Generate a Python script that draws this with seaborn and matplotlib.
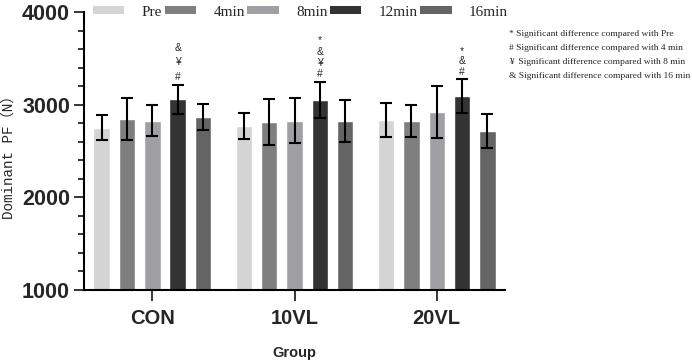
import numpy as np
import pandas as pd
import matplotlib
matplotlib.use("Agg")
import matplotlib.pyplot as plt
from matplotlib.ticker import MultipleLocator
from matplotlib.patches import Patch
import seaborn as sns

groups = ["CON", "10VL", "20VL"]
times = ["Pre", "4min", "8min", "12min", "16min"]
means = {
    "CON":  [2750, 2848, 2827, 3057, 2868],
    "10VL": [2773, 2816, 2827, 3053, 2824],
    "20VL": [2834, 2824, 2921, 3093, 2719],
}
errs = {
    "CON":  [135, 225, 170, 160, 140],
    "10VL": [140, 250, 245, 195, 225],
    "20VL": [187, 173, 285, 180, 185],
}
marks = {
    "CON":  ["&", "¥", "#"],
    "10VL": ["*", "&", "¥", "#"],
    "20VL": ["*", "&", "#"],
}
colors = ["#d4d4d4", "#7f7f7f", "#a0a0a4", "#333333", "#646464"]
notes = [
    "* Significant difference compared with Pre",
    "# Significant difference compared with 4 min",
    "¥  Significant difference compared with 8 min",
    "& Significant difference compared with 16 min",
]

rows = []
for g in groups:
    for t, m, e in zip(times, means[g], errs[g]):
        rows.append({"Group": g, "Time": t, "PF": m, "err": e})
df = pd.DataFrame(rows)

sns.set_style("ticks")
plt.rcParams["font.family"] = ["Liberation Sans", "DejaVu Sans"]

fig = plt.figure(figsize=(6.92, 3.62), dpi=100)
ax = fig.add_axes([0.1214, 0.1989, 0.6084, 0.768])

sns.barplot(data=df, x="Group", y="PF", hue="Time", order=groups, hue_order=times,
            palette=colors, width=0.89, gap=0.35, errorbar=None, ax=ax,
            saturation=1, legend=False)

mark_step = {"CON": 10.3, "10VL": 8.0, "20VL": 7.3}

for i, t in enumerate(times):
    for j, g in enumerate(groups):
        p = ax.patches[i * len(groups) + j]
        xc = p.get_x() + p.get_width() / 2
        row = df[(df.Group == g) & (df.Time == t)].iloc[0]
        ax.errorbar(xc, row.PF, yerr=row.err, color="black", capsize=4,
                    elinewidth=1.5, capthick=1.5, zorder=5)
        if t == "12min":
            top = row.PF + row.err
            for k, s in enumerate(reversed(marks[g])):
                ax.annotate(s, (xc, top), xytext=(0, 2 + k * mark_step[g]),
                            textcoords="offset points", ha="center", va="bottom",
                            fontsize=7.5, family=["Liberation Sans", "DejaVu Sans"])

ax.set_ylim(1000, 4000)
ax.set_xlim(-0.48, 2.48)
ax.yaxis.set_major_locator(MultipleLocator(1000))
ax.yaxis.set_minor_locator(MultipleLocator(200))
ax.tick_params(axis="y", which="major", length=7, width=1.3, labelsize=15.5, pad=3)
ax.tick_params(axis="y", which="minor", length=4, width=1.3)
ax.tick_params(axis="x", which="major", length=8, width=1.3, labelsize=14.5, pad=6)
for lab in ax.get_yticklabels() + ax.get_xticklabels():
    lab.set_fontweight("bold")
for s in ["left", "bottom"]:
    ax.spines[s].set_linewidth(1.5)
    ax.spines[s].set_color("black")
sns.despine(ax=ax)

ax.set_xlabel("Group", fontsize=10.5, fontweight="bold")
ax.xaxis.set_label_coords(0.5, -0.2)
ax.set_ylabel("Dominant PF（N）", fontsize=10.3,
              family=["Liberation Mono", "Noto Sans CJK SC"])
ax.yaxis.set_label_coords(-0.163, 0.49)

handles = [Patch(facecolor=c, edgecolor="none") for c in colors]
fig.legend(handles, times, loc="center left", bbox_to_anchor=(93 / 692, 1 - 12 / 362),
           ncol=5, frameon=False, borderpad=0, borderaxespad=0,
           handlelength=2.05, handleheight=0.35, columnspacing=0.15,
           handletextpad=1.15, prop={"family": "Liberation Serif", "size": 11})

for k, n in enumerate(notes):
    fig.text(509 / 692, 1 - (34 + k * 14) / 362, n, fontsize=6.8, family="Liberation Serif",
             va="center", ha="left")

fig.savefig("out.png", dpi=100)
